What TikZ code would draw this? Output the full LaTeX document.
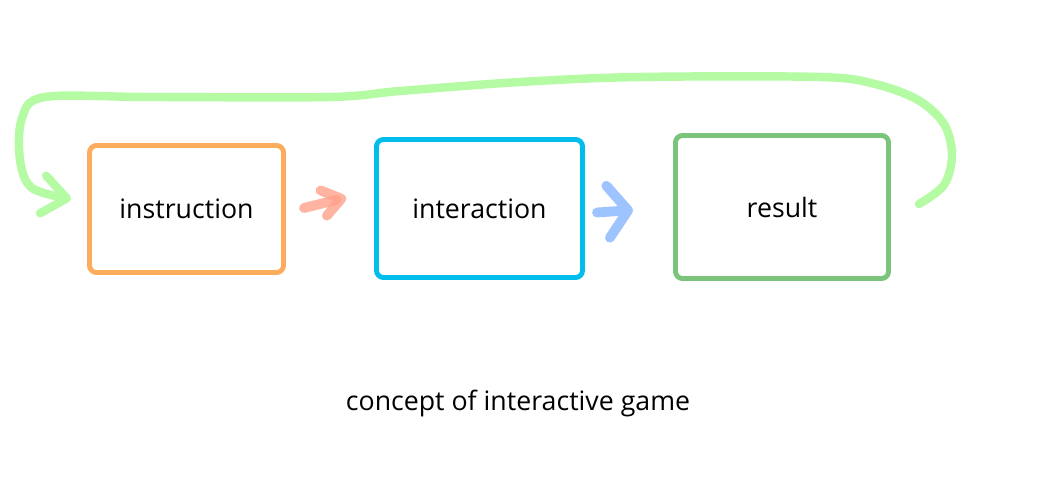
\documentclass[tikz,border=0pt]{standalone}
\usepackage{fontspec}
\setmainfont{Open Sans}
\usetikzlibrary{calc, arrows.meta}

\definecolor{instrorange}{HTML}{FBAD5D}
\definecolor{interblue}{HTML}{00BDEC}
\definecolor{resgreen}{HTML}{7BC47B}
\definecolor{loopgreen}{HTML}{B5FBA4}
\definecolor{redarrow}{HTML}{FFA08A}
\definecolor{bluearrow}{HTML}{9EC4FF}

\tikzset{
  stage/.style={draw, line width=3.5pt, rounded corners=5pt, fill=white,
    font=\fontsize{19}{22}\selectfont},
  brush/.style={line width=#1, line cap=round, line join=round},
}

\begin{document}
\begin{tikzpicture}[x=0.025cm, y=-0.025cm]
  % Page frame
  \useasboundingbox (0,0) rectangle (1040,501);

  % The three stages
  \node[stage, draw=instrorange, minimum width=4.85cm, minimum height=3.175cm] (instruction) at (186.5,209) {instruction};
  \node[stage, draw=interblue, minimum width=5.15cm, minimum height=3.45cm] (interaction) at (479.5,208.5) {interaction};
  \node[stage, draw=resgreen, minimum width=5.325cm, minimum height=3.575cm] (result) at (782,207) {result};

  % Caption
  \node (caption) at (518,403) {\fontsize{19}{22}\selectfont concept of interactive game};

  % Arrows between stages
  \draw[brush=7pt, redarrow, opacity=0.8, -{Straight Barb[length=0.45cm, width=0.65cm, round]}]
    ($(instruction.east)+(18,-1)$) -- ($(interaction.west)+(-28,-11)$);
  \draw[brush=7pt, bluearrow, -{Straight Barb[length=0.5cm, width=1.3cm, round]}]
    ($(interaction.east)+(12,4)$) -- ($(result.west)+(-40,3)$);

  % Loop back from result to instruction
  \coordinate (loopstart) at ($(result.east)+(28,-3)$);
  \coordinate (loopend) at ($(instruction.west)+(-16,-10)$);
  \draw[brush=6pt, loopgreen, -{Straight Barb[length=0.6cm, width=0.95cm, round]}]
    plot[smooth, tension=0.55] coordinates {(loopstart) (944,185) (952,155) (944,124) (918,100)
      (875,84) (820,77) (640,77) (520,82) (400,91) (330,97) (150,97) (45,97) (22,118)
      (20,160) (32,188) (loopend)};
\end{tikzpicture}
\end{document}
